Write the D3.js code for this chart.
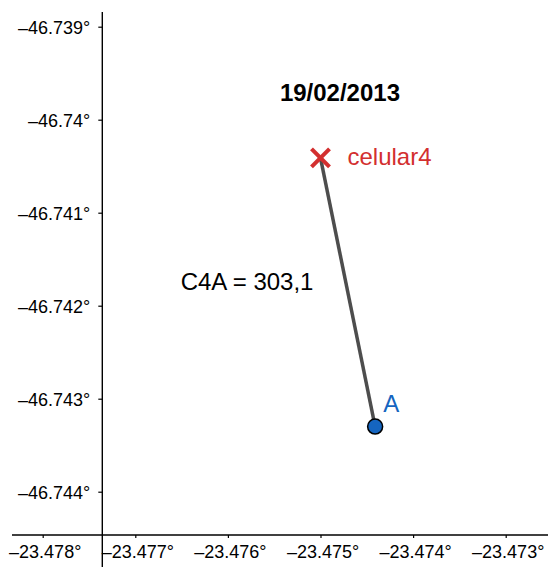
<!DOCTYPE html>
<html>
<head>
<meta charset="utf-8">
<script src="https://cdn.jsdelivr.net/npm/d3@7"></script>
<style>
  html, body { margin: 0; padding: 0; background: #fff; }
  svg { display: block; font-family: "Liberation Sans", Arial, sans-serif; }
</style>
</head>
<body>
<svg id="chart" width="548" height="567"></svg>
<script>
// ---- data ----
const xTickValues = [-23.478, -23.477, -23.476, -23.475, -23.474, -23.473];
const xTickLabels = ["\u201323.478°", "\u201323.477°", "\u201323.476°", "\u201323.475°", "\u201323.474°", "\u201323.473°"];
const yTickValues = [-46.739, -46.740, -46.741, -46.742, -46.743, -46.744];
const yTickLabels = ["\u201346.739°", "\u201346.74°", "\u201346.741°", "\u201346.742°", "\u201346.743°", "\u201346.744°"];

const pointNames = ["celular4", "A"];
const pointX = [-23.47500, -23.47441];
const pointY = [-46.74041, -46.74330];

const segmentLabel = "C4A = 303,1";
const segmentLabelX = -23.47651;
const segmentLabelY = -46.74183;
const title = "19/02/2013";
const titleX = -23.47479;
const titleY = -46.73980;

// ---- layout ----
const W = 548, H = 567;
const svg = d3.select("#chart");

const x = d3.scaleLinear().domain([-23.478, -23.473]).range([42.7, 505.7]);
const y = d3.scaleLinear().domain([-46.739, -46.744]).range([26.7, 491.7]);

const axisYpos = 535;   // pixel row of horizontal axis
const axisXpos = 102.3; // pixel column of vertical axis

// x axis
const gx = svg.append("g").attr("transform", `translate(0,${axisYpos})`)
  .call(d3.axisBottom(x).tickValues(xTickValues)
    .tickFormat((d, i) => xTickLabels[i]).tickSizeInner(3).tickSizeOuter(0));
gx.select(".domain").remove();
gx.append("line").attr("x1", 12).attr("x2", W).attr("y1", 0).attr("y2", 0)
  .attr("stroke", "#000").attr("stroke-width", 1.4);
gx.selectAll(".tick line").attr("stroke", "#000").attr("stroke-width", 1.2);
gx.selectAll(".tick text").attr("fill", "#000").attr("font-size", 18)
  .attr("y", 23).attr("dy", 0).attr("dx", 2);

// y axis
const gy = svg.append("g").attr("transform", `translate(${axisXpos},0)`)
  .call(d3.axisLeft(y).tickValues(yTickValues)
    .tickFormat((d, i) => yTickLabels[i]).tickSizeInner(4).tickSizeOuter(0));
gy.select(".domain").remove();
gy.append("line").attr("x1", 0).attr("x2", 0).attr("y1", 12).attr("y2", H)
  .attr("stroke", "#000").attr("stroke-width", 1.4);
gy.selectAll(".tick line").attr("stroke", "#000").attr("stroke-width", 1.2);
gy.selectAll(".tick text").attr("fill", "#000").attr("font-size", 18)
  .attr("x", -12).attr("dy", "0.4em");

// segment
svg.append("line")
  .attr("x1", x(pointX[0])).attr("y1", y(pointY[0]))
  .attr("x2", x(pointX[1])).attr("y2", y(pointY[1]))
  .attr("stroke", "#4d4d4d").attr("stroke-width", 3.5);

// celular4 cross
const cx0 = x(pointX[0]), cy0 = y(pointY[0]), s = 9;
const cross = svg.append("g").attr("stroke", "#d32f2f").attr("stroke-width", 4);
cross.append("line").attr("x1", cx0 - s).attr("y1", cy0 - s).attr("x2", cx0 + s).attr("y2", cy0 + s);
cross.append("line").attr("x1", cx0 - s).attr("y1", cy0 + s).attr("x2", cx0 + s).attr("y2", cy0 - s);
svg.append("text").attr("x", cx0 + 27).attr("y", cy0 + 7)
  .attr("font-size", 24).attr("fill", "#d32f2f").text(pointNames[0]);

// A point
svg.append("circle").attr("cx", x(pointX[1])).attr("cy", y(pointY[1])).attr("r", 7.5)
  .attr("fill", "#1565c0").attr("stroke", "#000").attr("stroke-width", 1.5);
svg.append("text").attr("x", x(pointX[1]) + 8).attr("y", y(pointY[1]) - 15)
  .attr("font-size", 24).attr("fill", "#1565c0").text(pointNames[1]);

// segment label
svg.append("text").attr("x", x(segmentLabelX)).attr("y", y(segmentLabelY))
  .attr("font-size", 24).attr("fill", "#000").text(segmentLabel);

// title
svg.append("text").attr("x", x(titleX)).attr("y", y(titleY))
  .attr("font-size", 24).attr("font-weight", "bold").attr("text-anchor", "middle")
  .attr("fill", "#000").text(title);
</script>
</body>
</html>
